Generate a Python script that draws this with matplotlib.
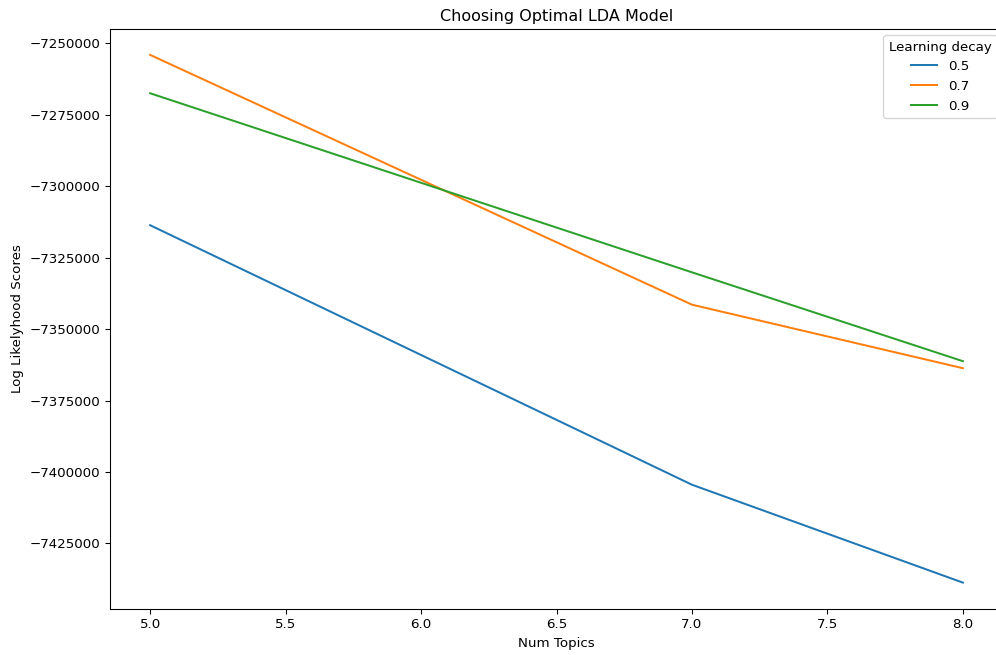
import matplotlib
matplotlib.use("Agg")
import matplotlib.pyplot as plt

num_topics = [5, 7, 8]
decays = ["0.5", "0.7", "0.9"]
scores_05 = [-7313634, -7404439, -7438693]
scores_07 = [-7254032, -7341437, -7363665]
scores_09 = [-7267460, -7330112, -7361210]

W, H, DPI = 996, 655, 96
fig = plt.figure(figsize=(W / DPI, H / DPI), dpi=DPI)
# axes runs a bit past the right edge, like the cropped screenshot
left, right, top, bottom = 109.5, 1003.5, 28.5, 609
ax = fig.add_axes([left / W, (H - bottom) / H, (right - left) / W, (bottom - top) / H])

for label, scores in zip(decays, [scores_05, scores_07, scores_09]):
    ax.plot(num_topics, scores, label=label)

ax.set_title("Choosing Optimal LDA Model")
ax.set_xlabel("Num Topics")
ax.set_ylabel("Log Likelyhood Scores")
ax.ticklabel_format(axis="y", style="plain", useOffset=False)
ax.spines["right"].set_visible(False)
ax.legend(title="Learning decay", loc="upper right")

fig.savefig("out.png", dpi=DPI)
